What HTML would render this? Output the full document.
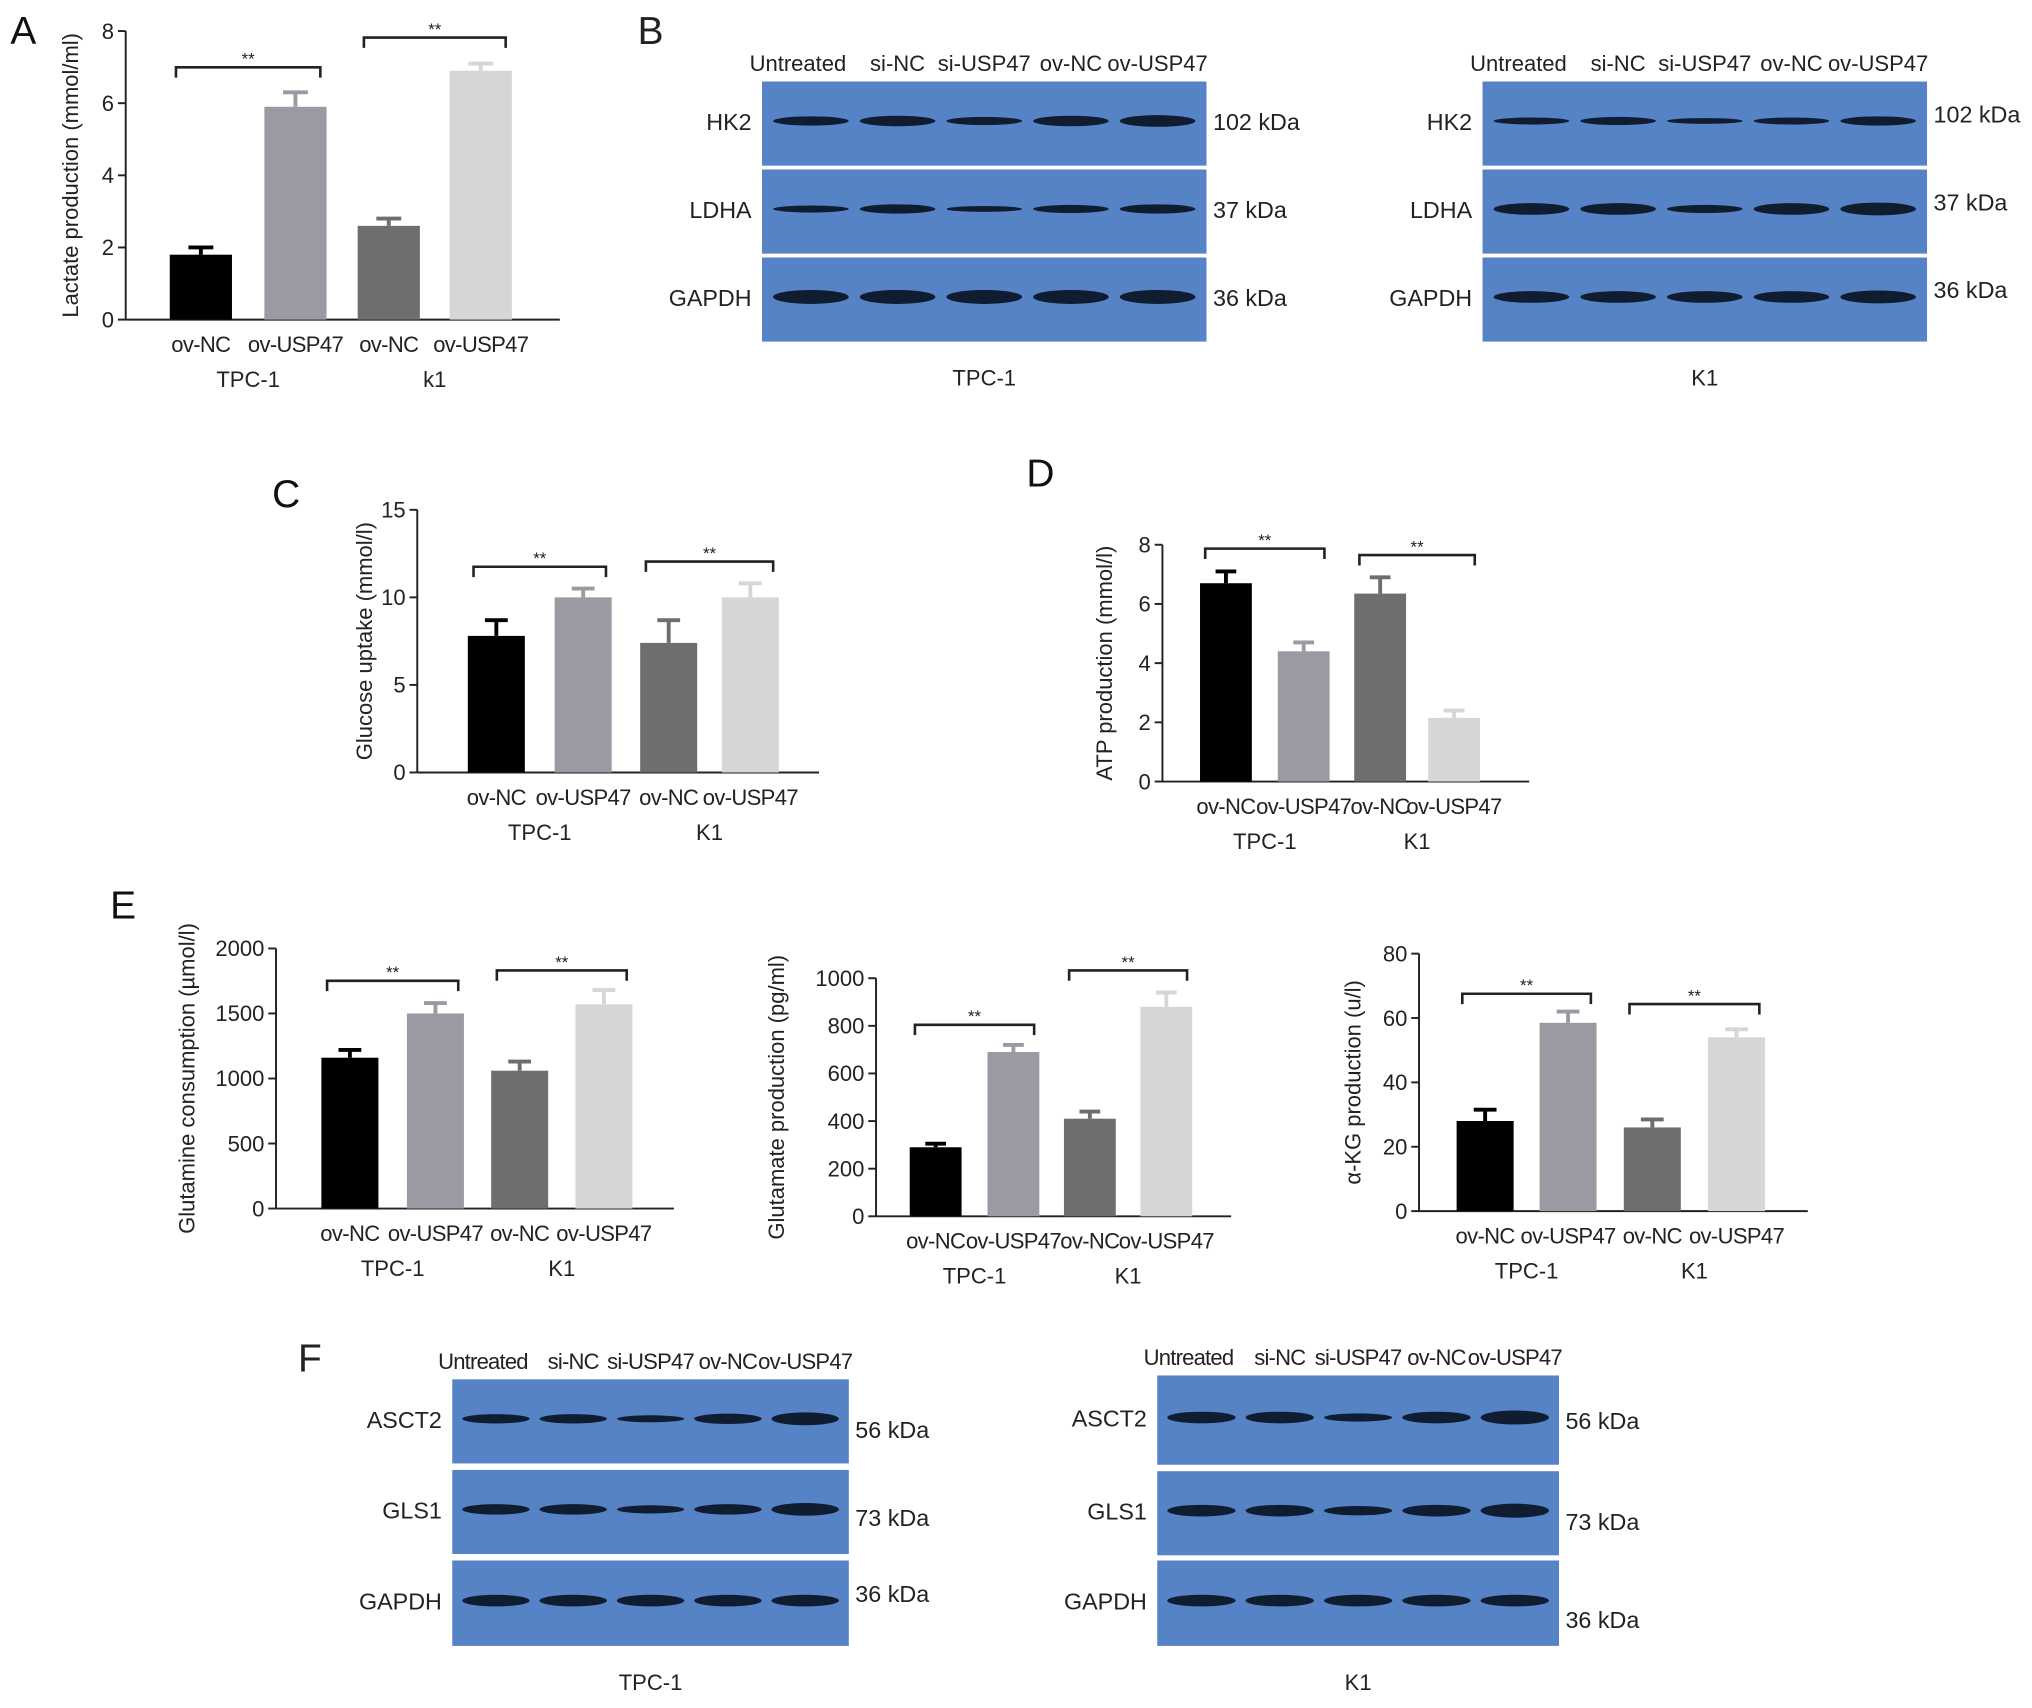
<!DOCTYPE html>
<html><head><meta charset="utf-8"><style>
html,body{margin:0;padding:0;background:#fff;}
svg{display:block;font-family:"Liberation Sans",Arial,sans-serif;}
</style></head><body>
<svg id="fig" width="2032" height="1708" viewBox="0 0 1568 1320" preserveAspectRatio="none" xmlns="http://www.w3.org/2000/svg"></svg>
<script>
// ---- data ----
const catLabels = ["ov-NC","ov-USP47","ov-NC","ov-USP47"];
const colors = ["#000000","#9a9aa2","#6e6e6e","#d6d6d6"];
const aVals = [1.8, 5.9, 2.6, 6.9];   const aErr = [0.2, 0.4, 0.2, 0.2];
const cVals = [7.8, 10.0, 7.4, 10.0]; const cErr = [0.9, 0.5, 1.3, 0.8];
const dVals = [6.7, 4.4, 6.35, 2.15]; const dErr = [0.4, 0.3, 0.55, 0.25];
const e1Vals = [1160, 1500, 1060, 1570]; const e1Err = [60, 80, 70, 110];
const e2Vals = [290, 690, 410, 880];  const e2Err = [15, 30, 30, 60];
const e3Vals = [28, 58.5, 26, 54];    const e3Err = [3.5, 3.5, 2.5, 2.5];
const aTicks=[0,2,4,6,8], cTicks=[0,5,10,15], dTicks=[0,2,4,6,8];
const e1Ticks=[0,500,1000,1500,2000], e2Ticks=[0,200,400,600,800,1000], e3Ticks=[0,20,40,60,80];

const NS="http://www.w3.org/2000/svg";
const svg=document.getElementById('fig');
function el(tag,attrs,parent){const e=document.createElementNS(NS,tag);for(const k in attrs)e.setAttribute(k,attrs[k]);(parent||svg).appendChild(e);return e;}
function txt(s,x,y,size,anchor,parent,extra){const t=el('text',Object.assign({x:x,y:y,'font-size':size,'text-anchor':anchor||'start',fill:'#222'},extra||{}),parent);t.textContent=s;return t;}

function chart(cfg){
  const g=el('g',{});
  
  
  const max=cfg.ticks[cfg.ticks.length-1];
  const y=v=>cfg.y0-(v/max)*(cfg.y0-cfg.yTop);
  el('line',{x1:cfg.x0,y1:cfg.yTop,x2:cfg.x0,y2:cfg.y0,stroke:'#222','stroke-width':1.5},g);
  el('line',{x1:cfg.x0,y1:cfg.y0,x2:cfg.xEnd,y2:cfg.y0,stroke:'#222','stroke-width':1.5},g);
  cfg.ticks.forEach(t=>{
    el('line',{x1:cfg.x0-6,y1:y(t),x2:cfg.x0,y2:y(t),stroke:'#222','stroke-width':1.5},g);
    const l=txt(String(t),cfg.x0-9,y(t)+6,17,'end',g);
    
    
  });
  const yt=txt(cfg.ytitle,0,0,17,'middle',g,{transform:`translate(${cfg.ytx},${(cfg.y0+cfg.yTop)/2}) rotate(-90)`});
  
  
  cfg.vals.forEach((v,i)=>{
    const cx=cfg.cx[i], w=cfg.bw;
    const r=el('rect',{x:cx-w/2,y:y(v),width:w,height:cfg.y0-y(v),fill:colors[i]},g);
    
    
    const ye=y(v+cfg.err[i]);
    el('line',{x1:cx,y1:ye,x2:cx,y2:y(v),stroke:colors[i],'stroke-width':3},g);
    el('line',{x1:cx-w*0.2,y1:ye,x2:cx+w*0.2,y2:ye,stroke:colors[i],'stroke-width':3},g);
    const lb=txt(catLabels[i],cx,cfg.y0+25,17,'middle',g,{'letter-spacing':'-0.5'});
    
    
  });
  [[0,1,'TPC-1'],[2,3,cfg.g2||'K1']].forEach((p,k)=>{
    const gl=txt(p[2],(cfg.cx[p[0]]+cfg.cx[p[1]])/2,cfg.y0+52,17,'middle',g);
    
    
    const by=cfg.brY[k];
    el('path',{d:`M${cfg.cx[p[0]]-cfg.bw*0.4},${by+8}V${by}H${cfg.cx[p[1]]+cfg.bw*0.4}V${by+8}`,fill:'none',stroke:'#222','stroke-width':2},g);
    txt('**',(cfg.cx[p[0]]+cfg.cx[p[1]])/2,by-2,13,'middle',g);
  });
  const pl=txt(cfg.letter,cfg.lx,cfg.ly,30,'start',g,{fill:'#111'});
  
  
}

chart({name:'lactate-chart',x0:97,xEnd:432,y0:247,yTop:24,ticks:aTicks,vals:aVals,err:aErr,cx:[155,228,300,371],bw:48,ytitle:'Lactate production (mmol/ml)',ytx:60,brY:[52,29],letter:'A',lx:8,ly:34,g2:'k1'});
chart({name:'glucose-chart',x0:322,xEnd:632,y0:597,yTop:394,ticks:cTicks,vals:cVals,err:cErr,cx:[383,450,516,579],bw:44,ytitle:'Glucose uptake (mmol/l)',ytx:287,brY:[438,434],letter:'C',lx:210,ly:392});
chart({name:'atp-chart',x0:897,xEnd:1180,y0:604,yTop:421,ticks:dTicks,vals:dVals,err:dErr,cx:[946,1006,1065,1122],bw:40,ytitle:'ATP production (mmol/l)',ytx:858,brY:[424,429],letter:'D',lx:792,ly:376});
chart({name:'glutamine-chart',x0:213,xEnd:520,y0:934,yTop:733,ticks:e1Ticks,vals:e1Vals,err:e1Err,cx:[270,336,401,466],bw:44,ytitle:'Glutamine consumption (µmol/l)',ytx:150,brY:[758,750],letter:'E',lx:85,ly:710});
chart({name:'glutamate-chart',x0:676,xEnd:950,y0:940,yTop:756,ticks:e2Ticks,vals:e2Vals,err:e2Err,cx:[722,782,841,900],bw:40,ytitle:'Glutamate production (pg/ml)',ytx:605,brY:[792,750]});
chart({name:'akg-chart',x0:1095,xEnd:1395,y0:936,yTop:737,ticks:e3Ticks,vals:e3Vals,err:e3Err,cx:[1146,1210,1275,1340],bw:44,ytitle:'α-KG production (u/l)',ytx:1050,brY:[768,776]});

// ---- blots ----
const laneNames=["Untreated","si-NC","si-USP47","ov-NC","ov-USP47"];
function blot(cfg){
  const g=el('g',{});
  
  
  const w=cfg.x1-cfg.x0;
  cfg.rows.forEach((r,ri)=>{
    el('rect',{x:cfg.x0,y:r[0],width:w,height:r[1]-r[0],fill:'#5583c6'},g);
    const by=(r[0]+r[1])/2-2;
    cfg.bands[ri].forEach((th,li)=>{
      const cx=cfg.x0+w*(0.11+li*0.195);
      el('ellipse',{cx:cx,cy:by,rx:w*0.085,ry:th*0.9,fill:'#101c30'},g);
    });
    const ln=txt(cfg.labels[ri],cfg.x0-8,by+7,18,'end',g);
    
    
    txt(cfg.kda[ri],cfg.x1+5,by+7+(cfg.kOff?cfg.kOff[ri]:0),18,'start',g);
  });
  laneNames.forEach((n,li)=>{txt(n,cfg.x0+w*(0.11+li*0.195)+(li==0?-10:0),cfg.rows[0][0]-8,17,'middle',g,{'letter-spacing':cfg.ls||'0'});});
  txt(cfg.cell,(cfg.x0+cfg.x1)/2,cfg.rows[2][1]+34,17,'middle',g);
}
const b1=[[4,4.5,3.5,4.5,5],[3,4,2.5,3.5,4],[6,6,6,6,6]];
const b2=[[3,3.5,2.5,3,4],[5,5,3.5,5,5.5],[5,5,5,5,5.5]];
blot({name:'blot-b-tpc1',x0:588,x1:931,rows:[[63,128],[131,196],[199,264]],bands:b1,labels:['HK2','LDHA','GAPDH'],kda:['102 kDa','37 kDa','36 kDa'],cell:'TPC-1'});
blot({name:'blot-b-k1',x0:1144,x1:1487,rows:[[63,128],[131,196],[199,264]],bands:b2,labels:['HK2','LDHA','GAPDH'],kda:['102 kDa','37 kDa','36 kDa'],cell:'K1',kOff:[-6,-6,-6]});
blot({name:'blot-f-tpc1',x0:349,x1:655,rows:[[1066,1131],[1136,1201],[1206,1272]],bands:[[4,4,3,4.5,5.5],[4.5,4.5,3.5,4.5,5.5],[5,5,5,5,5]],labels:['ASCT2','GLS1','GAPDH'],kda:['56 kDa','73 kDa','36 kDa'],cell:'TPC-1',kOff:[8,6,-6],ls:'-0.6'});
blot({name:'blot-f-k1',x0:893,x1:1203,rows:[[1063,1132],[1137,1202],[1206,1272]],bands:[[5,5,3.5,5,6],[5,5,4,5,6],[5,5,5,5,5]],labels:['ASCT2','GLS1','GAPDH'],kda:['56 kDa','73 kDa','36 kDa'],cell:'K1',kOff:[2,8,14],ls:'-0.6'});
txt('B',492,34,30,'start');
txt('F',230,1060,30,'start');
</script>
</body></html>
